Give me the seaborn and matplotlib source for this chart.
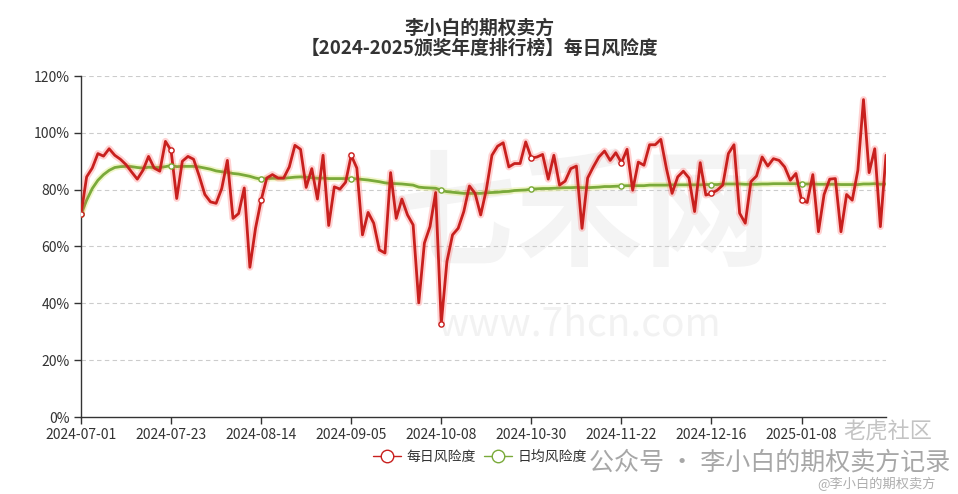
import numpy as np
import pandas as pd
import matplotlib
matplotlib.use("Agg")
import matplotlib.pyplot as plt
import matplotlib.patheffects as pe
from matplotlib.lines import Line2D
import seaborn as sns

# ---------------- data ----------------
holidays = ["2024-09-16", "2024-09-17", "2024-10-01", "2024-10-02", "2024-10-03",
            "2024-10-04", "2024-10-07", "2025-01-01", "2025-01-28", "2025-01-29",
            "2025-01-30", "2025-01-31", "2025-02-03", "2025-02-04"]
missing_days = ["2024-11-01"]
dates = [d.strftime("%Y-%m-%d") for d in
         pd.bdate_range("2024-07-01", "2025-02-06", freq="C", holidays=holidays)]
dates = [d for d in dates if d not in missing_days]

daily_risk = [71.3, 84.5, 87.6, 92.7, 91.8, 94.4, 92.1, 90.7, 88.8, 86.2,
              83.7, 86.8, 91.7, 87.6, 86.5, 97.0, 93.8, 76.9, 90.0, 91.7,
              90.7, 84.8, 78.3, 75.7, 75.2, 80.4, 90.3, 69.9, 71.6, 80.6,
              52.7, 66.4, 76.3, 84.1, 85.3, 84.1, 84.1, 88.0, 95.6, 94.2,
              80.8, 87.4, 76.7, 92.1, 67.4, 81.0, 80.2, 82.6, 92.1, 87.6,
              64.1, 72.0, 68.2, 58.8, 57.7, 86.0, 69.9, 76.7, 71.1, 67.6,
              40.2, 61.2, 67.0, 79.0, 32.9, 54.7, 64.1, 66.4, 72.3, 81.3,
              78.7, 71.1, 80.0, 92.1, 95.3, 96.5, 88.0, 89.2, 89.2, 96.8,
              91.1, 91.5, 92.4, 83.7, 92.1, 81.6, 83.0, 87.4, 88.3, 66.4,
              84.1, 88.0, 91.5, 93.6, 90.3, 93.0, 89.5, 94.2, 79.8, 89.7,
              88.6, 95.8, 95.8, 97.7, 87.4, 78.7, 84.5, 86.5, 84.1, 72.3,
              89.5, 78.1, 78.7, 79.8, 81.6, 92.7, 95.8, 71.7, 68.2, 82.8,
              84.8, 91.5, 88.3, 90.9, 90.3, 88.0, 83.3, 85.7, 76.3, 75.5,
              85.3, 65.2, 78.3, 83.7, 83.9, 65.2, 78.3, 76.3, 86.8, 111.7,
              86.0, 94.4, 67.0, 92.1]

avg_risk = [71.3, 76.3, 80.4, 83.3, 85.3, 86.8, 87.8, 88.1, 88.2, 88.1,
            87.8, 87.6, 87.9, 87.8, 87.8, 88.1, 88.5, 88.1, 88.2, 88.2,
            88.2, 88.0, 87.6, 87.2, 86.6, 86.3, 86.1, 85.7, 85.5, 85.1,
            84.7, 84.1, 83.7, 83.9, 84.0, 84.0, 84.0, 84.2, 84.4, 84.5,
            84.4, 84.2, 84.0, 84.1, 83.9, 83.9, 83.9, 83.9, 83.9, 83.8,
            83.6, 83.4, 83.1, 82.8, 82.4, 82.2, 82.1, 82.0, 81.8, 81.6,
            80.9, 80.7, 80.6, 80.5, 79.8, 79.3, 79.1, 78.9, 78.7, 78.7,
            78.7, 78.7, 78.9, 79.0, 79.1, 79.3, 79.4, 79.7, 79.8, 79.9,
            80.2, 80.3, 80.4, 80.4, 80.5, 80.6, 80.7, 80.7, 80.8, 80.7,
            80.7, 80.8, 80.9, 81.1, 81.1, 81.2, 81.3, 81.4, 81.4, 81.4,
            81.4, 81.6, 81.6, 81.6, 81.6, 81.7, 81.7, 81.7, 81.7, 81.7,
            81.7, 81.8, 81.8, 81.8, 82.0, 82.0, 82.0, 82.0, 81.9, 81.9,
            81.9, 82.0, 82.0, 82.1, 82.1, 82.1, 82.1, 82.1, 82.0, 82.0,
            82.0, 81.9, 81.9, 81.9, 81.9, 81.8, 81.8, 81.8, 81.8, 82.0,
            82.0, 82.1, 81.9, 82.0]

y_ticks = [0, 20, 40, 60, 80, 100, 120]
label_step = 16
series_names = ["每日风险度", "日均风险度"]
title_lines = ["李小白的期权卖方", "【2024-2025颁奖年度排行榜】每日风险度"]

# ---------------- figure ----------------
sns.set_theme(style="white")
plt.rcParams["font.family"] = ["Noto Sans CJK SC", "DejaVu Sans"]

RED = "#c8201e"
GREEN = "#7aaa3a"

fig = plt.figure(figsize=(9.58, 4.94), dpi=100)
ax = fig.add_axes([81 / 958, 1 - 417 / 494, (886 - 81) / 958, (417 - 76) / 494])

n = len(dates)
df = pd.DataFrame({"pos": np.arange(n), "date": dates,
                   "daily": daily_risk, "avg": avg_risk})

# faint background watermark
ax.text(0.62, 0.58, "七禾网", transform=ax.transAxes, ha="center", va="center",
        fontsize=92, color="#f4f4f4", zorder=0, fontweight="bold")
ax.text(0.62, 0.27, "www.7hcn.com", transform=ax.transAxes, ha="center", va="center",
        fontsize=28, color="#f2f2f2", zorder=0)

sns.lineplot(data=df, x="pos", y="avg", ax=ax, color=GREEN, linewidth=2,
             zorder=3, path_effects=[pe.Stroke(linewidth=4.5, foreground=(0.85, 0.9, 0.4, 0.35)),
                                     pe.Normal()])
sns.lineplot(data=df, x="pos", y="daily", ax=ax, color=RED, linewidth=2,
             zorder=4, path_effects=[pe.Stroke(linewidth=5, foreground=(1.0, 0.3, 0.3, 0.25)),
                                     pe.Normal()])

mk = df.iloc[::label_step]
ax.scatter(mk["pos"], mk["avg"], s=14, facecolor="white", edgecolor=GREEN,
           linewidth=1, zorder=5)
ax.scatter(mk["pos"], mk["daily"], s=14, facecolor="white", edgecolor=RED,
           linewidth=1, zorder=6)

ax.set_xlim(0, n - 1)
ax.set_ylim(0, 120)
ax.set_yticks(y_ticks)
ax.set_yticklabels([f"{v}%" for v in y_ticks])
ax.set_xticks(mk["pos"])
ax.set_xticklabels(mk["date"])
ax.set_xlabel("")
ax.set_ylabel("")

for v in y_ticks[1:]:
    ax.axhline(v, color="#cccccc", linestyle=(0, (4, 3)), linewidth=0.8, zorder=1)

for side in ["top", "right"]:
    ax.spines[side].set_visible(False)
for side in ["left", "bottom"]:
    ax.spines[side].set_visible(True)
    ax.spines[side].set_color("#333333")
    ax.spines[side].set_linewidth(1)

ax.tick_params(axis="both", which="both", direction="out", length=5, width=1,
               color="#333333", labelsize=10, labelcolor="#333333", pad=3,
               bottom=True, left=True)

# title
fig.text(0.5, 1 - 28 / 494, title_lines[0], ha="center", va="center",
         fontsize=13.5, fontweight="bold", color="#333333")
fig.text(0.5, 1 - 48 / 494, title_lines[1], ha="center", va="center",
         fontsize=13.5, fontweight="bold", color="#333333")

# legend
handles = [Line2D([0], [0], color=RED, lw=1, marker="o", markersize=9,
                  markerfacecolor="white", markeredgecolor=RED),
           Line2D([0], [0], color=GREEN, lw=1, marker="o", markersize=9,
                  markerfacecolor="white", markeredgecolor=GREEN)]
fig.legend(handles, series_names, loc="center", bbox_to_anchor=(480 / 958, 1 - 457 / 494),
           ncol=2, frameon=False, fontsize=10, handlelength=2.0, handletextpad=0.4,
           columnspacing=0.6, labelcolor="#333333")

# overlay watermarks
fig.text(770 / 958, 1 - 463 / 494, "公众号 · 李小白的期权卖方记录", ha="center", va="center",
         fontsize=18, color="#8a8a8a", alpha=0.75, zorder=10)
fig.text(888 / 958, 1 - 432 / 494, "老虎社区", ha="center", va="center",
         fontsize=16, color="#b5b5b5", alpha=0.8, zorder=10)
fig.text(876 / 958, 1 - 484 / 494, "@李小白的期权卖方", ha="center", va="center",
         fontsize=9.5, color="#9a9a9a", alpha=0.8, zorder=10)

fig.savefig("out.png", dpi=100)
